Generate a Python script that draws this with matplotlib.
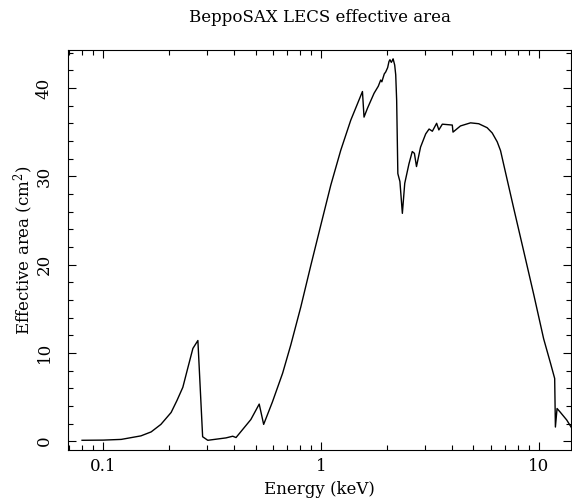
import numpy as np
import matplotlib
matplotlib.use('Agg')
import matplotlib.pyplot as plt
from matplotlib.ticker import MultipleLocator, FixedLocator, FixedFormatter, LogLocator, NullFormatter

plt.rcParams['font.family'] = ['DejaVu Serif']
plt.rcParams['mathtext.fontset'] = 'dejavuserif'

# LECS effective area (keV, cm^2)
energy = [0.080, 0.100, 0.121, 0.149, 0.166, 0.184, 0.205, 0.218, 0.232, 0.244,
          0.258, 0.272, 0.286, 0.302, 0.366, 0.393, 0.407, 0.476, 0.520, 0.545,
          0.598, 0.666, 0.726, 0.807, 0.897, 1.000, 1.108, 1.231, 1.368, 1.468,
          1.548, 1.574, 1.632, 1.750, 1.830, 1.877, 1.900, 1.950, 1.978, 2.020,
          2.049, 2.070, 2.100, 2.123, 2.140, 2.176, 2.200, 2.222, 2.250, 2.300,
          2.360, 2.420, 2.530, 2.620, 2.680, 2.740, 2.860, 3.020, 3.130, 3.240,
          3.390, 3.470, 3.600, 4.000, 4.030, 4.360, 4.850, 5.290, 5.780, 6.100,
          6.430, 6.660, 6.890, 7.650, 8.510, 9.460, 10.50, 11.30, 11.80, 11.89,
          12.10, 12.50, 13.40, 14.20]
area = [0.10, 0.12, 0.20, 0.60, 1.05, 1.90, 3.25, 4.60, 6.10, 8.20,
        10.5, 11.4, 0.50, 0.10, 0.37, 0.56, 0.41, 2.45, 4.20, 1.90,
        4.45, 7.70, 10.9, 15.2, 19.9, 24.6, 29.0, 32.95, 36.35, 38.2,
        39.6, 36.7, 37.7, 39.4, 40.2, 40.9, 40.7, 41.6, 41.8, 42.3,
        43.0, 43.2, 42.9, 43.1, 43.3, 42.6, 41.5, 38.6, 30.3, 29.4,
        25.8, 29.2, 31.4, 32.8, 32.6, 31.1, 33.3, 34.8, 35.35, 35.1,
        36.0, 35.25, 35.9, 35.8, 35.0, 35.7, 36.05, 35.95, 35.5, 34.9,
        33.9, 32.9, 31.3, 26.4, 21.5, 16.6, 11.6, 8.8, 7.1, 1.6,
        3.7, 3.3, 2.4, 1.4]

x_major = [0.1, 1, 10]
x_major_labels = ['0.1', '1', '10']

fig = plt.figure(figsize=(5.72, 5.0), dpi=100)
ax = fig.add_axes([0.119, 0.1, 0.879, 0.8])

ax.plot(energy, area, color='k', lw=1.0)

ax.set_xscale('log')
ax.set_xlim(0.069, 14.0)
ax.set_ylim(-1.0, 44.3)

ax.xaxis.set_major_locator(FixedLocator(x_major))
ax.xaxis.set_major_formatter(FixedFormatter(x_major_labels))
ax.xaxis.set_minor_locator(LogLocator(base=10, subs=np.arange(2, 10)))
ax.xaxis.set_minor_formatter(NullFormatter())
ax.yaxis.set_major_locator(MultipleLocator(10))
ax.yaxis.set_minor_locator(MultipleLocator(2))

ax.tick_params(which='both', direction='in', top=True, right=True, labelsize=12, width=0.8)
ax.tick_params(which='major', length=6)
ax.tick_params(which='minor', length=3.5)
ax.tick_params(axis='x', pad=6)
ax.tick_params(axis='y', pad=11, labelrotation=90)
for lab in ax.get_yticklabels():
    lab.set_va('center')

for s in ax.spines.values():
    s.set_linewidth(0.8)

ax.set_xlabel('Energy (keV)', fontsize=12, labelpad=4)
ax.set_ylabel('Effective area (cm$^2$)', fontsize=12, labelpad=0)
ax.set_title('BeppoSAX LECS effective area', fontsize=12, pad=20)

fig.savefig('out.png', dpi=100)
